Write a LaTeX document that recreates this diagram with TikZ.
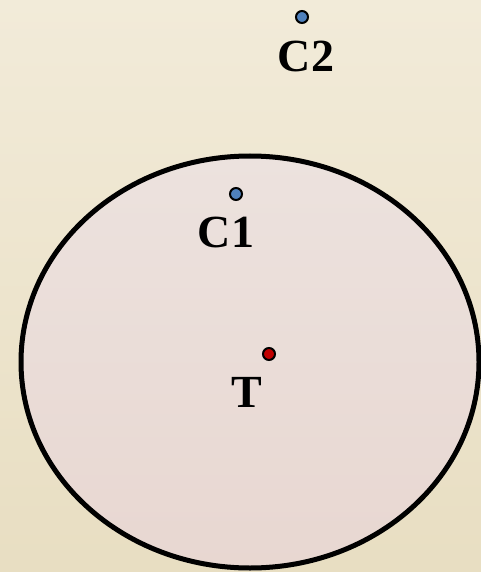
\documentclass[tikz,border=0pt]{standalone}
\usepackage{fontspec}
\setmainfont{Liberation Serif}
\definecolor{bgtop}{HTML}{F2EBD9}
\definecolor{bgbot}{HTML}{E8DEC2}
\definecolor{eltop}{HTML}{ECE2DE}
\definecolor{elbot}{HTML}{E8D7D1}
\definecolor{dotblue}{HTML}{4F81BD}
\definecolor{dotred}{HTML}{C00000}
\begin{document}
\begin{tikzpicture}[x=1pt,y=-1pt,
  dot/.style={circle,draw=black,line width=2pt,inner sep=0pt,minimum size=12pt},
  lbl/.style={anchor=base,inner sep=0pt,font=\fontsize{46}{50}\selectfont\bfseries}]
\useasboundingbox (0,0) rectangle (481,572);
\shade[top color=bgtop,bottom color=bgbot] (0,0) rectangle (481,572);
\shade[top color=eltop,bottom color=elbot,draw=black,line width=5pt] (250,362) ellipse [x radius=229,y radius=206];
\node[dot,fill=dotblue] (c2) at (302,17) {};
\node[dot,fill=dotblue] (c1) at (236,194) {};
\node[dot,fill=dotred] (t) at (269,354) {};
\node[lbl] (c2l) at (306,72) {C2};
\node[lbl] (c1l) at (226,247) {C1};
\node[lbl] (tl) at (247,407) {T};
\end{tikzpicture}
\end{document}
